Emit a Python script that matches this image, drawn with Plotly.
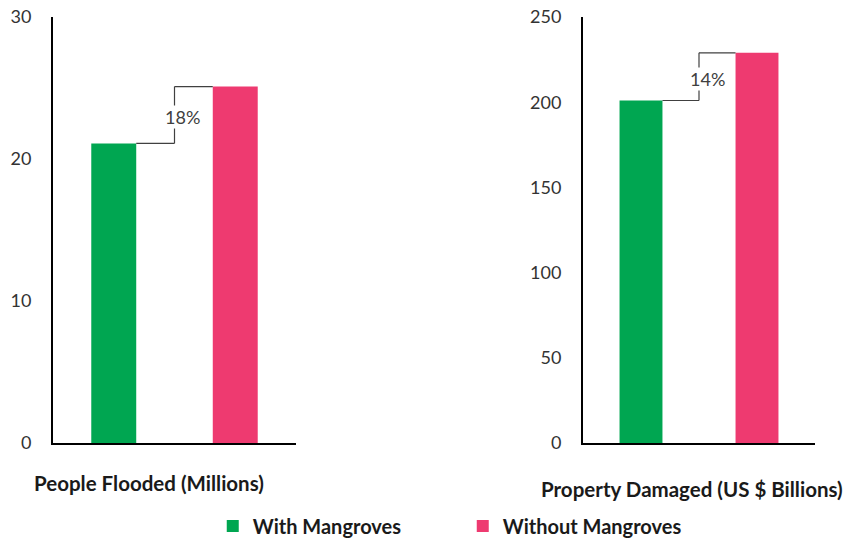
import plotly.graph_objects as go

series = ["With Mangroves", "Without Mangroves"]
colors = ["#00A651", "#EE3A70"]
panel_titles = ["People Flooded (Millions)", "Property Damaged (US $ Billions)"]
people_flooded = [21.1, 25.1]
property_damaged = [201, 229]
pct_labels = ["18%", "14%"]
y_ranges = [[0, 30], [0, 250]]
y_dtick = [10, 50]

W, H = 851, 539
BW = 0.37

fig = go.Figure()
panels = [people_flooded, property_damaged]
axes = [("x", "y"), ("x2", "y2")]
for p, vals in enumerate(panels):
    xa, ya = axes[p]
    for s in range(2):
        fig.add_trace(go.Bar(
            x=[series[s]], y=[vals[s]], name=series[s],
            marker=dict(color=colors[s], line=dict(width=0)),
            width=BW, xaxis=xa, yaxis=ya,
            legendgroup=series[s], showlegend=(p == 0),
        ))
    # connector
    line = dict(color="#404040", width=1.2)
    fig.add_shape(type="line", xref=xa, yref=ya, x0=BW / 2, x1=0.5, y0=vals[0], y1=vals[0], line=line)
    fig.add_shape(type="line", xref=xa, yref=ya, x0=0.5, x1=0.5, y0=vals[0], y1=vals[1], line=line)
    fig.add_shape(type="line", xref=xa, yref=ya, x0=0.5, x1=1 - BW / 2, y0=vals[1], y1=vals[1], line=line)
    fig.add_annotation(xref=xa, yref=ya, x=0.5, y=(vals[0] + vals[1]) / 2,
                       text=pct_labels[p], showarrow=False, xshift=8, yshift=-2,
                       bgcolor="white", borderpad=0,
                       font=dict(family="Lato", size=18, color="#404040"))

# domains from pixel positions
left_dom = [53 / W, 296 / W]
right_dom = [583 / W, 815 / W]

axis_common = dict(showline=True, linecolor="black", linewidth=2, showgrid=False,
                   zeroline=False, ticks="")
fig.update_layout(
    width=W, height=H,
    margin=dict(l=0, r=0, t=17, b=96),
    plot_bgcolor="white", paper_bgcolor="white",
    barmode="overlay",
    font=dict(family="Lato", color="#333333"),
    xaxis=dict(domain=left_dom, range=[-0.5, 1.5], showticklabels=False, anchor="y",
               type="category", categoryorder="array", categoryarray=series, **axis_common),
    xaxis2=dict(domain=right_dom, range=[-0.5, 1.5], showticklabels=False, anchor="y2",
                type="category", categoryorder="array", categoryarray=series, **axis_common),
    yaxis=dict(domain=[0, 1], range=y_ranges[0], dtick=y_dtick[0], anchor="x",
               tickfont=dict(size=18, color="#333333"), ticklabelstandoff=16, **axis_common),
    yaxis2=dict(domain=[0, 1], range=y_ranges[1], dtick=y_dtick[1], anchor="x2",
                tickfont=dict(size=18, color="#333333"), ticklabelstandoff=16, **axis_common),
    legend=dict(orientation="h", xref="container", yref="container",
                x=0.250, y=1 - 526 / H, xanchor="left", yanchor="middle",
                entrywidth=205, entrywidthmode="pixels",
                font=dict(family="Lato", size=20, color="#1a1a1a", weight="bold"),
                itemwidth=30, tracegroupgap=0, bgcolor="rgba(0,0,0,0)"),
)

fig.add_annotation(xref="paper", yref="paper", x=149 / W, y=0, yshift=-40, showarrow=False,
                   text="<b>" + panel_titles[0] + "</b>", xanchor="center", yanchor="middle",
                   font=dict(family="Lato", size=20.5, color="#1a1a1a"))
fig.add_annotation(xref="paper", yref="paper", x=692 / W, y=0, yshift=-46, showarrow=False,
                   text="<b>" + panel_titles[1] + "</b>", xanchor="center", yanchor="middle",
                   font=dict(family="Lato", size=20.5, color="#1a1a1a"))

fig.write_html("out.html")
